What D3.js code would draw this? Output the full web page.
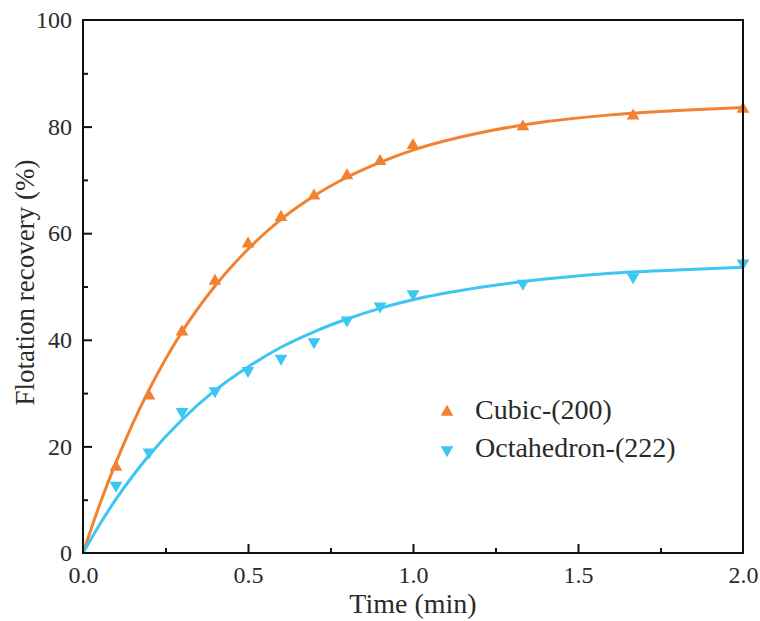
<!DOCTYPE html>
<html lang="en">
  <head>
    <meta charset="utf-8">
    <title>Flotation recovery</title>
    <script type="text/javascript" src="https://d3js.org/d3.v7.min.js"></script>
    <style>
      body { margin: 0; background: #fff; }
      svg text { font-family: 'Liberation Serif', 'Times New Roman', serif; fill: #2a2a2a; }
    </style>
  </head>
  <body>
    <div id="viz"></div>
    <script type="text/javascript">

    // measured points
    var times = [0.1, 0.2, 0.3, 0.4, 0.5, 0.6, 0.7, 0.8, 0.9, 1.0, 1.333, 1.667, 2.0]
    var cubic = [16.1, 29.5, 41.5, 51.0, 58.0, 63.0, 67.0, 70.8, 73.5, 76.5, 80.0, 82.0, 83.3]
    var octa  = [12.7, 18.9, 26.5, 30.4, 34.2, 36.5, 39.6, 43.7, 46.3, 48.6, 50.6, 51.8, 54.4]

    // fitted curves
    var fitTimes = [0, 0.05, 0.1, 0.15, 0.2, 0.3, 0.4, 0.5, 0.6, 0.7, 0.8, 0.9, 1.0, 1.2, 1.4, 1.6, 1.8, 2.0]
    var cubicFit = [0, 9.0, 17.0, 24.2, 30.6, 41.5, 50.1, 57.0, 62.6, 67.0, 70.5, 73.3, 75.6, 78.8, 80.9, 82.2, 83.0, 83.6]
    var octaFit  = [0, 5.3, 10.1, 14.4, 18.3, 25.0, 30.5, 34.9, 38.6, 41.5, 43.9, 45.9, 47.5, 49.8, 51.4, 52.5, 53.1, 53.6]

    var xTicks = [0, 0.5, 1.0, 1.5, 2.0]
    var xMinor = [0.25, 0.75, 1.25, 1.75]
    var yTicks = [0, 20, 40, 60, 80, 100]
    var yMinor = [10, 30, 50, 70, 90]

    var seriesNames = ['Cubic-(200)', 'Octahedron-(222)']
    var colors = ['#F28130', '#3CC6F2']

    var W = 760, H = 621
    var m = {left: 83, right: 17, top: 20, bottom: 68}

    var svg = d3.select('#viz').append('svg')
      .attr('width', W)
      .attr('height', H)

    var x = d3.scaleLinear().domain([0, 2]).range([m.left, W - m.right])
    var y = d3.scaleLinear().domain([0, 100]).range([H - m.bottom, m.top])

    var line = d3.line()
      .x(function(d) { return x(d[0]) })
      .y(function(d) { return y(d[1]) })
      .curve(d3.curveMonotoneX)

    var fits = [cubicFit, octaFit]
    fits.forEach(function(f, i) {
      svg.append('path')
        .datum(fitTimes.map(function(t, j) { return [t, f[j]] }))
        .attr('d', line)
        .attr('fill', 'none')
        .attr('stroke', colors[i])
        .attr('stroke-width', 3)
    })

    var tri = d3.symbol().type(d3.symbolTriangle).size(70)

    svg.selectAll('.cubic')
      .data(times)
      .enter()
      .append('path')
      .attr('class', 'cubic')
      .attr('d', tri)
      .attr('fill', colors[0])
      .attr('transform', function(d, i) { return 'translate(' + x(d) + ',' + y(cubic[i]) + ')' })

    svg.selectAll('.octa')
      .data(times)
      .enter()
      .append('path')
      .attr('class', 'octa')
      .attr('d', tri)
      .attr('fill', colors[1])
      .attr('transform', function(d, i) { return 'translate(' + x(d) + ',' + y(octa[i]) + ') rotate(180)' })

    // axes, ticks pointing inward
    var xAxis = d3.axisBottom(x).tickValues(xTicks).tickSize(-9).tickPadding(13)
      .tickFormat(d3.format('.1f'))
    var yAxis = d3.axisLeft(y).tickValues(yTicks).tickSize(-9).tickPadding(11)

    var gx = svg.append('g')
      .attr('transform', 'translate(0,' + (H - m.bottom) + ')')
      .call(xAxis)
    gx.selectAll('.tick').filter(function(d) { return d === 0 || d === 2 }).select('line').remove()
    svg.append('g')
      .attr('transform', 'translate(0,' + (H - m.bottom) + ')')
      .call(d3.axisBottom(x).tickValues(xMinor).tickSize(-5).tickFormat(''))

    var gy = svg.append('g')
      .attr('transform', 'translate(' + m.left + ',0)')
      .call(yAxis)
    gy.selectAll('.tick').filter(function(d) { return d === 0 || d === 100 }).select('line').remove()
    svg.append('g')
      .attr('transform', 'translate(' + m.left + ',0)')
      .call(d3.axisLeft(y).tickValues(yMinor).tickSize(-5).tickFormat(''))

    svg.selectAll('.domain').remove()
    svg.selectAll('g').attr('font-family', null)
    svg.selectAll('.tick line').attr('stroke', '#111').attr('stroke-width', 2)
    svg.selectAll('.tick text')
      .attr('font-size', 24)
      .attr('fill', null)

    // frame
    svg.append('rect')
      .attr('x', x(0))
      .attr('y', y(100))
      .attr('width', x(2) - x(0))
      .attr('height', y(0) - y(100))
      .attr('fill', 'none')
      .attr('stroke', '#111')
      .attr('stroke-width', 2)

    svg.append('text')
      .attr('x', (x(0) + x(2)) / 2)
      .attr('y', 613)
      .attr('text-anchor', 'middle')
      .attr('font-size', 28)
      .text('Time (min)')

    svg.append('text')
      .attr('transform', 'translate(34,' + ((y(0) + y(100)) / 2 - 4) + ') rotate(-90)')
      .attr('text-anchor', 'middle')
      .attr('font-size', 27)
      .text('Flotation recovery (%)')

    // legend
    var leg = svg.append('g').attr('transform', 'translate(447,412)')
    seriesNames.forEach(function(n, i) {
      leg.append('path')
        .attr('d', tri)
        .attr('fill', colors[i])
        .attr('transform', 'translate(0,' + (i * 38) + ')' + (i ? ' rotate(180)' : ''))
      leg.append('text')
        .attr('x', 28)
        .attr('y', i * 38 + 7)
        .attr('font-size', 28)
        .text(n)
    })

    </script>
  </body>
</html>
